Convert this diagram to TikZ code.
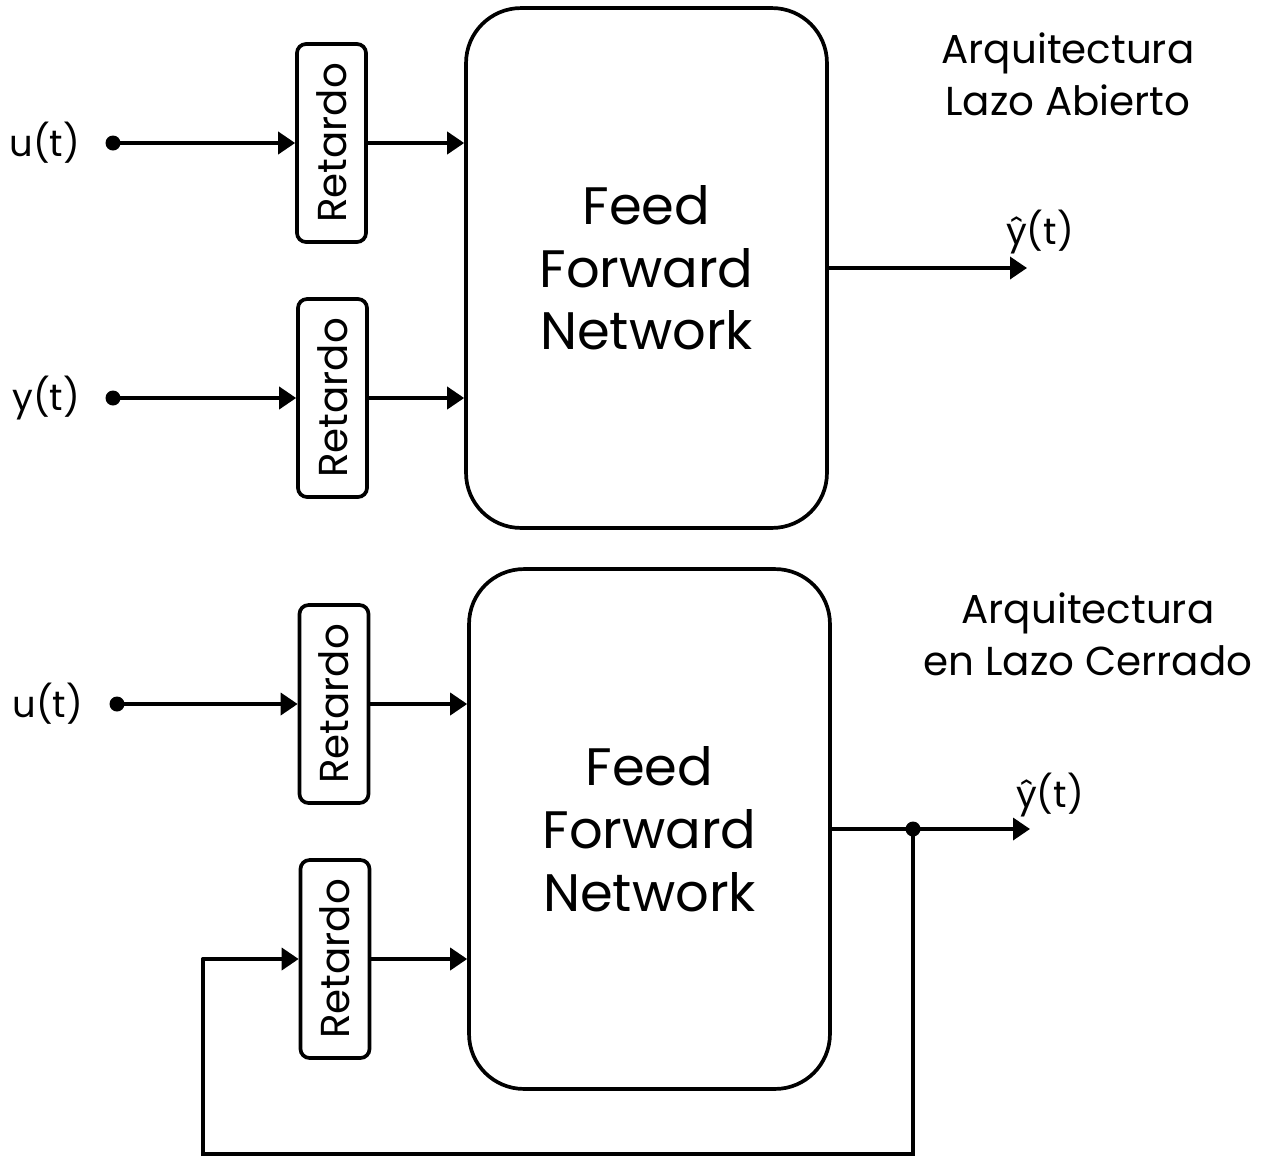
\documentclass[tikz,border=0pt]{standalone}
\usepackage{fontspec}
\setmainfont{Poppins}
\usetikzlibrary{arrows.meta}
\begin{document}
\begin{tikzpicture}[x=0.02cm,y=-0.02cm,line width=2.1pt,
  ffn/.style={draw,rounded corners=1.1cm,minimum width=7.22cm,minimum height=10.4cm,
    align=center,inner sep=0pt,font=\fontsize{30}{35.7}\selectfont},
  delaybox/.style={draw,rounded corners=0.18cm,minimum width=1.38cm,minimum height=3.96cm,
    inner sep=0pt,font=\fontsize{23}{27}\selectfont},
  sig/.style={font=\fontsize{21}{26}\selectfont,inner sep=0pt},
  title/.style={align=center,font=\fontsize{23}{29.5}\selectfont,inner sep=0pt},
  arr/.style={-{Triangle[length=0.34cm,width=0.44cm]}},
  dot/.style={circle,fill,inner sep=0pt,minimum size=0.3cm}]
\useasboundingbox (0,0) rectangle (1265,1157);

% open-loop architecture
\node[ffn] (ffnA) at (646.5,268) {Feed\\Forward\\Network};
\node[delaybox] (dA1) at (331.5,143) {\rotatebox{90}{Retardo}};
\node[delaybox] (dA2) at (332.5,398) {\rotatebox{90}{Retardo}};
\node[dot] (uA) at (113,143) {};
\node[dot] (yA) at (113,398) {};
\node[sig,anchor=east] at (82,143) {u(t)};
\node[sig,anchor=east] at (82,398) {y(t)};
\coordinate (oA) at (1027,268);
\node[sig] at (1040,232) {ŷ(t)};
\node[title] at (1068,74) {Arquitectura\\Lazo Abierto};

\draw[arr] (uA.center) -- (dA1.west);
\draw[arr] (yA.center) -- (dA2.west);
\draw[arr] (dA1.east) -- (dA1.east -| ffnA.west);
\draw[arr] (dA2.east) -- (dA2.east -| ffnA.west);
\draw[arr] (ffnA.east) -- (oA);

% closed-loop architecture
\node[ffn] (ffnB) at (649.5,829) {Feed\\Forward\\Network};
\node[delaybox] (dB1) at (334,704) {\rotatebox{90}{Retardo}};
\node[delaybox] (dB2) at (335,959) {\rotatebox{90}{Retardo}};
\node[dot] (uB) at (117,704) {};
\node[sig,anchor=east] at (85,704) {u(t)};
\coordinate (oB) at (1030,829);
\node[dot] (jB) at (913,829) {};
\node[sig] at (1050,795) {ŷ(t)};
\node[title] at (1088,634) {Arquitectura\\en Lazo Cerrado};
\coordinate (fbL) at (203,959);

\draw[arr] (uB.center) -- (dB1.west);
\draw[arr] (dB1.east) -- (dB1.east -| ffnB.west);
\draw[arr] (dB2.east) -- (dB2.east -| ffnB.west);
\draw[arr] (ffnB.east) -- (oB);
\draw[line cap=round] (jB.center) |- (203,1154) -- (fbL);
\draw[arr,line cap=round] (fbL) -- (dB2.west);
\end{tikzpicture}
\end{document}
